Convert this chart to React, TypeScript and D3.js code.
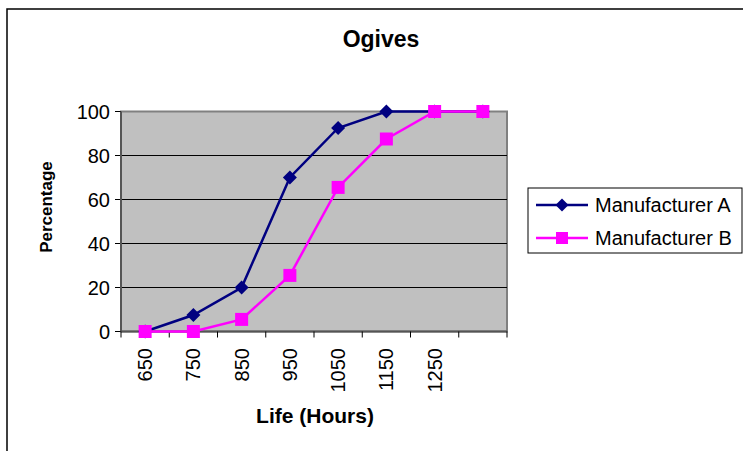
import React from "react";
import * as d3 from "d3";

const categories = ["650", "750", "850", "950", "1050", "1150", "1250", ""];
const seriesA = [0, 7.5, 20, 70, 92.5, 100, 100, 100];
const seriesB = [0, 0, 5.5, 25.5, 65.5, 87.5, 100, 100];
const yTicks = [0, 20, 40, 60, 80, 100];
const seriesNames = ["Manufacturer A", "Manufacturer B"];

const W = 743, H = 451;
const plot = { left: 121, right: 507, top: 111.5, bottom: 331.5 };
const FONT = "Liberation Sans, Arial, sans-serif";
const NAVY = "#000080";
const PINK = "#FF00FF";

function Diamond({ x, y, r = 7 }: { x: number; y: number; r?: number }) {
  return <path d={`M${x},${y - r}L${x + r},${y}L${x},${y + r}L${x - r},${y}Z`} fill={NAVY} />;
}
function Square({ x, y, s = 13 }: { x: number; y: number; s?: number }) {
  return <rect x={x - s / 2} y={y - s / 2} width={s} height={s} fill={PINK} />;
}

export default function App() {
  const x = d3.scaleBand<string>().domain(categories.map((c, i) => String(i))).range([plot.left, plot.right]);
  const y = d3.scaleLinear().domain([0, 100]).range([plot.bottom, plot.top]);
  const cx = (i: number) => (x(String(i)) as number) + x.bandwidth() / 2;
  const line = d3.line<number>().x((_, i) => cx(i)).y((d) => y(d));
  const bounds = d3.range(categories.length + 1).map((i) => plot.left + i * x.bandwidth());

  return (
    <svg width={W} height={H} style={{ position: "absolute", left: 0, top: 0 }} fontFamily={FONT}>
      <rect x={0} y={0} width={W} height={H} fill="#fff" />
      <path d={`M7,${H}V9H${W}`} fill="none" stroke="#000" strokeWidth={1.5} />
      <text x={381} y={47} textAnchor="middle" fontSize={23} fontWeight="bold">Ogives</text>

      <rect x={plot.left} y={plot.top} width={plot.right - plot.left} height={plot.bottom - plot.top} fill="#C0C0C0" stroke="#808080" strokeWidth={2} />
      {yTicks.map((t) => (
        <g key={t}>
          {t > 0 && t < 100 && <line x1={plot.left} x2={plot.right} y1={y(t)} y2={y(t)} stroke="#000" strokeWidth={1} />}
          <line x1={plot.left - 6} x2={plot.left} y1={y(t)} y2={y(t)} stroke="#000" strokeWidth={1} />
          <text x={110} y={y(t) + 7} textAnchor="end" fontSize={20}>{t}</text>
        </g>
      ))}
      <line x1={plot.left} x2={plot.left} y1={plot.top} y2={plot.bottom} stroke="#555" strokeWidth={2} />
      <line x1={plot.left} x2={plot.right} y1={plot.bottom} y2={plot.bottom} stroke="#555" strokeWidth={2} />
      {bounds.map((b, i) => (
        <line key={i} x1={b} x2={b} y1={plot.bottom} y2={plot.bottom + 6} stroke="#000" strokeWidth={1} />
      ))}
      {categories.map((c, i) => (
        <text key={i} transform={`translate(${cx(i) + 7},${plot.bottom + 16.5}) rotate(-90)`} textAnchor="end" fontSize={20}>{c}</text>
      ))}
      <text transform={`translate(51.5,207) rotate(-90)`} textAnchor="middle" fontSize={17} fontWeight="bold">Percentage</text>
      <text x={315} y={423} textAnchor="middle" fontSize={21} fontWeight="bold">Life (Hours)</text>

      <path d={line(seriesA) || ""} fill="none" stroke={NAVY} strokeWidth={2.5} />
      {seriesA.map((v, i) => <Diamond key={i} x={cx(i)} y={y(v)} />)}
      <path d={line(seriesB) || ""} fill="none" stroke={PINK} strokeWidth={2.5} />
      {seriesB.map((v, i) => <Square key={i} x={cx(i)} y={y(v)} />)}

      <rect x={528} y={188} width={214} height={65} fill="#fff" stroke="#000" strokeWidth={1} />
      <line x1={536} x2={588} y1={205} y2={205} stroke={NAVY} strokeWidth={2.5} />
      <Diamond x={562} y={205} r={6.5} />
      <text x={595} y={211.5} fontSize={20}>{seriesNames[0]}</text>
      <line x1={536} x2={588} y1={238} y2={238} stroke={PINK} strokeWidth={2.5} />
      <Square x={562} y={238} s={12} />
      <text x={595} y={244.5} fontSize={20}>{seriesNames[1]}</text>
    </svg>
  );
}
